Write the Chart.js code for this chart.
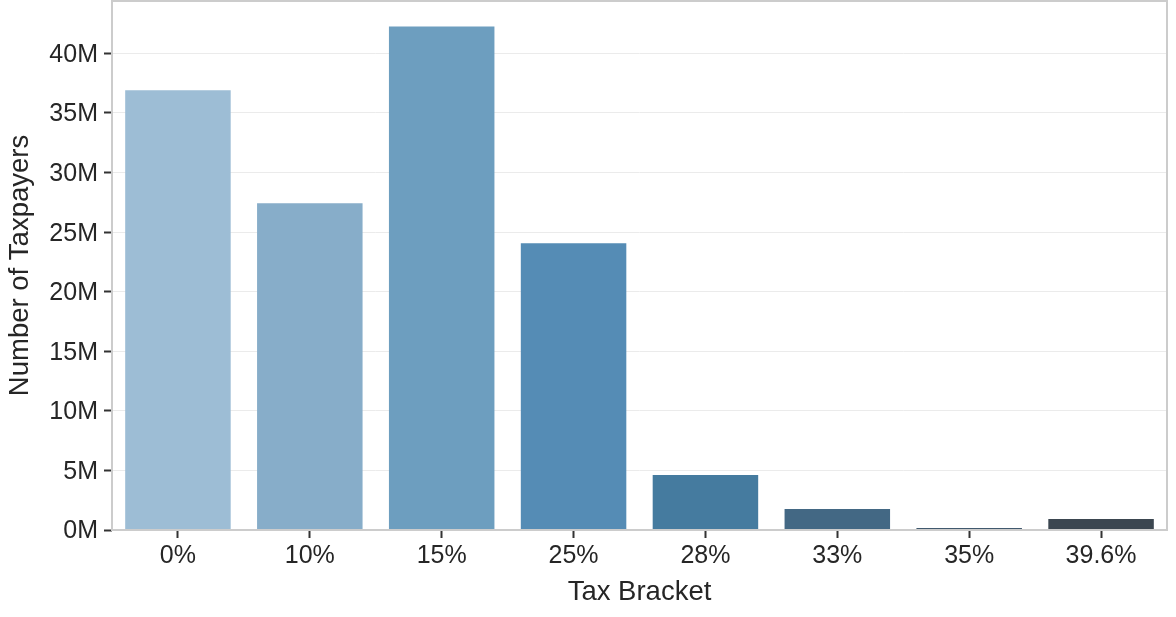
<!DOCTYPE html>
<html>
<head>
<meta charset="utf-8">
<script src="https://cdn.jsdelivr.net/npm/chart.js@4"></script>
<style>
  html, body { margin: 0; padding: 0; background: #fff; }
  #wrap { width: 1176px; height: 617px; }
</style>
</head>
<body>
<div id="wrap"><canvas id="chart" width="1176" height="617"></canvas></div>
<script>
// datos (millones de contribuyentes)
const brackets = ['0%', '10%', '15%', '25%', '28%', '33%', '35%', '39.6%'];
const taxpayers = [36.9, 27.42, 42.26, 24.07, 4.61, 1.76, 0.17, 0.92];
const barColors = ['#9dbdd5', '#87adc9', '#6d9ebf', '#558cb5', '#457b9f', '#436884', '#41596e', '#3b4650'];
const yTicks = [0, 5, 10, 15, 20, 25, 30, 35, 40];

const textColor = '#262626';

// marco gris alrededor del área del gráfico
const frame = {
    id: 'frame',
    afterDraw(chart) {
        const a = chart.chartArea;
        const ctx = chart.ctx;
        ctx.save();
        ctx.strokeStyle = '#cccccc';
        ctx.lineWidth = 2;
        ctx.strokeRect(a.left, a.top, a.right - a.left, a.bottom - a.top);
        ctx.restore();
    }
};

new Chart(document.getElementById('chart'), {
    type: 'bar',
    data: {
        labels: brackets,
        datasets: [{
            data: taxpayers.map(v => v * 1e6),
            backgroundColor: barColors,
            borderWidth: 0,
            categoryPercentage: 1,
            barPercentage: 0.8
        }]
    },
    options: {
        responsive: false,
        animation: false,
        layout: { padding: { top: 1, right: 9, left: 0, bottom: 0 } },
        plugins: { legend: { display: false }, tooltip: { enabled: false } },
        scales: {
            x: {
                afterFit(scale) { scale.height = 87; scale.paddingLeft = 0; scale.paddingRight = 0; },
                grid: { offset: false, drawOnChartArea: false, tickColor: '#333', tickLength: 8, tickWidth: 2 },
                border: { display: false },
                ticks: { color: textColor, font: { family: 'Liberation Sans', size: 25 }, padding: 3, maxRotation: 0 },
                title: { display: true, text: 'Tax Bracket', color: textColor, font: { family: 'Liberation Sans', size: 27.5 }, padding: { top: 4, bottom: 8 } }
            },
            y: {
                min: 0,
                max: 44.4e6,
                afterFit(scale) { scale.width = 112; scale.paddingTop = 0; scale.paddingBottom = 0; },
                afterBuildTicks(scale) { scale.ticks = yTicks.map(v => ({ value: v * 1e6 })); },
                grid: { color: '#ebebeb', lineWidth: 1, tickColor: '#333', tickLength: 8, tickWidth: 2 },
                border: { display: false },
                ticks: {
                    color: textColor,
                    font: { family: 'Liberation Sans', size: 25 },
                    padding: 6,
                    labelOffset: 1.5,
                    callback: v => (v / 1e6) + 'M'
                },
                title: { display: true, text: 'Number of Taxpayers', color: textColor, font: { family: 'Liberation Sans', size: 27.5 }, padding: { top: 4, bottom: 4 } }
            }
        }
    },
    plugins: [frame]
});
</script>
</body>
</html>
